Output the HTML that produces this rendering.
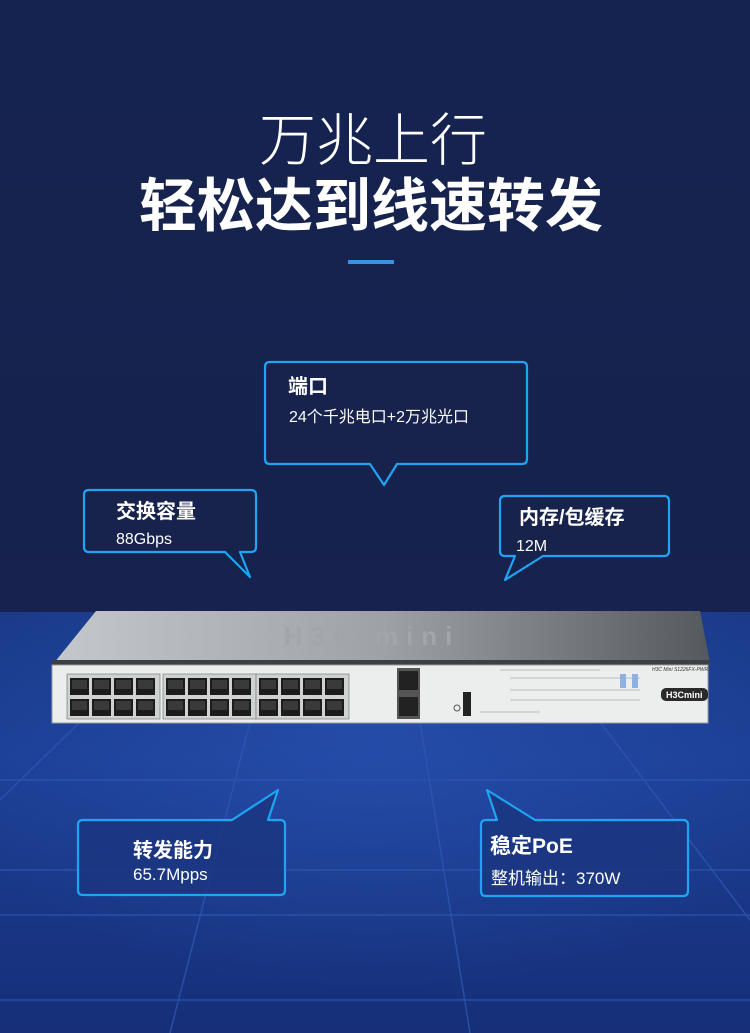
<!DOCTYPE html>
<html><head><meta charset="utf-8"><style>
html,body{margin:0;padding:0;width:750px;height:1033px;overflow:hidden;background:#16214b}
svg{display:block}
text{font-family:"Liberation Sans","Noto Sans CJK SC",sans-serif;fill:#fff}
</style></head><body>
<svg width="750" height="1033" viewBox="0 0 750 1033" xmlns="http://www.w3.org/2000/svg">
<defs>
<linearGradient id="bg" x1="0" y1="0" x2="0" y2="1">
<stop offset="0" stop-color="#152350"/><stop offset="1" stop-color="#18224c"/></linearGradient>
<linearGradient id="floor" x1="0" y1="0" x2="0" y2="1">
<stop offset="0" stop-color="#1a3a88"/><stop offset="0.35" stop-color="#1c3f95"/><stop offset="1" stop-color="#162f78"/></linearGradient>
<radialGradient id="glow" cx="0.5" cy="0.3" r="0.6">
<stop offset="0" stop-color="#2a55b5" stop-opacity="0.6"/><stop offset="1" stop-color="#2a55b5" stop-opacity="0"/></radialGradient>
<linearGradient id="lid" x1="0" y1="0" x2="1" y2="0">
<stop offset="0" stop-color="#c4c8cc"/><stop offset="0.5" stop-color="#9ea2a6"/><stop offset="1" stop-color="#55595d"/></linearGradient>
<g id="port"><rect width="19" height="17" fill="#1c1c1c"/><rect x="2" y="2" width="15" height="9" fill="#3a3a3a"/></g>
<g id="grp">
<rect x="-3" y="-4" width="93" height="45" fill="#cfd1d2" stroke="#888" stroke-width="0.8"/>
<use href="#port" x="0" y="0"/><use href="#port" x="22" y="0"/><use href="#port" x="44" y="0"/><use href="#port" x="66" y="0"/>
<use href="#port" x="0" y="21"/><use href="#port" x="22" y="21"/><use href="#port" x="44" y="21"/><use href="#port" x="66" y="21"/>
</g>
</defs>
<rect width="750" height="1033" fill="url(#bg)"/>
<rect x="0" y="612" width="750" height="421" fill="url(#floor)"/>
<rect x="0" y="612" width="750" height="421" fill="url(#glow)"/>
<g stroke="#2d56b0" stroke-width="1.5" fill="none" opacity="0.8">
<line x1="0" y1="780" x2="750" y2="780"/>
<line x1="0" y1="870" x2="750" y2="870"/>
<line x1="0" y1="1000" x2="750" y2="1000"/>
<line x1="0" y1="915" x2="750" y2="915"/>
<line x1="250" y1="722" x2="170" y2="1033"/>
<line x1="420" y1="722" x2="470" y2="1033"/>
<line x1="80" y1="722" x2="0" y2="800"/>
<line x1="600" y1="722" x2="750" y2="920"/>
</g>
<text x="373" y="160" font-size="57" text-anchor="middle" font-weight="300">万兆上行</text>
<text x="371" y="226" font-size="58" text-anchor="middle" font-weight="bold">轻松达到线速转发</text>
<rect x="348" y="260" width="46" height="4" fill="#3d8fe6"/>
<g fill="#17224d" stroke="#1ea4f2" stroke-width="2.2" stroke-linejoin="round">
<path d="M270 362 H522 Q527 362 527 367 V459 Q527 464 522 464 H397 L384 485 L370 464 H270 Q265 464 265 459 V367 Q265 362 270 362Z"/>
<path d="M89 490 H251 Q256 490 256 495 V547 Q256 552 251 552 H240 L250 577 L225 552 H89 Q84 552 84 547 V495 Q84 490 89 490Z"/>
<path d="M505 496 H664 Q669 496 669 501 V551 Q669 556 664 556 H543 L505 580 L515 556 H505 Q500 556 500 551 V501 Q500 496 505 496Z"/>
<path d="M83 820 H232 L278 790 L268 820 H280 Q285 820 285 825 V890 Q285 895 280 895 H83 Q78 895 78 890 V825 Q78 820 83 820Z" fill="#1b3680" fill-opacity="0.85"/>
<path d="M486 820 H497 L487 790 L535 820 H683 Q688 820 688 825 V891 Q688 896 683 896 H486 Q481 896 481 891 V825 Q481 820 486 820Z" fill="#1b3680" fill-opacity="0.85"/>
</g>
<text x="288" y="393" font-size="20" font-weight="bold">端口</text>
<text x="289" y="422" font-size="16">24个千兆电口+2万兆光口</text>
<text x="116" y="518" font-size="20" font-weight="bold">交换容量</text>
<text x="116" y="544" font-size="16">88Gbps</text>
<text x="519" y="524" font-size="20" font-weight="bold">内存/包缓存</text>
<text x="516" y="551" font-size="16">12M</text>
<text x="133" y="857" font-size="20" font-weight="bold">转发能力</text>
<text x="133" y="880" font-size="17">65.7Mpps</text>
<text x="490" y="853" font-size="21" font-weight="bold">稳定PoE</text>
<text x="491" y="884" font-size="17">整机输出：370W</text>
<path d="M54 663 L96 611 H700 L710 663Z" fill="url(#lid)"/>
<text x="372" y="645" font-size="26" text-anchor="middle" style="fill:#a2a6aa;letter-spacing:8px" font-weight="bold">H3C mini</text>
<rect x="52" y="660" width="658" height="5" fill="#3c3f43"/>
<rect x="52" y="665" width="656" height="58" fill="#eceeee" stroke="#9a9c9e"/>
<use href="#grp" x="70" y="678"/>
<use href="#grp" x="166" y="678"/>
<use href="#grp" x="259" y="678"/>
<rect x="397" y="668" width="23" height="51" fill="#555"/>
<rect x="399" y="671" width="19" height="19" fill="#222"/><rect x="399" y="697" width="19" height="19" fill="#222"/>
<rect x="463" y="692" width="8" height="24" fill="#222"/>
<circle cx="457" cy="708" r="3" fill="none" stroke="#555"/>
<g stroke="#888" stroke-width="0.6"><line x1="500" y1="670" x2="600" y2="670"/><line x1="510" y1="678" x2="640" y2="678"/><line x1="510" y1="690" x2="640" y2="690"/><line x1="510" y1="700" x2="640" y2="700"/><line x1="480" y1="712" x2="540" y2="712"/></g>
<rect x="620" y="674" width="6" height="14" fill="#8fb0e0"/><rect x="632" y="674" width="6" height="14" fill="#8fb0e0"/>
<rect x="661" y="688" width="47" height="13" rx="5" fill="#2a2a2a"/>
<text x="666" y="698" font-size="9" font-weight="bold">H3Cmini</text>
<text x="652" y="671" font-size="5" style="fill:#333" font-style="italic">H3C Mini S1226FX-PWR</text>
</svg>
</body></html>
